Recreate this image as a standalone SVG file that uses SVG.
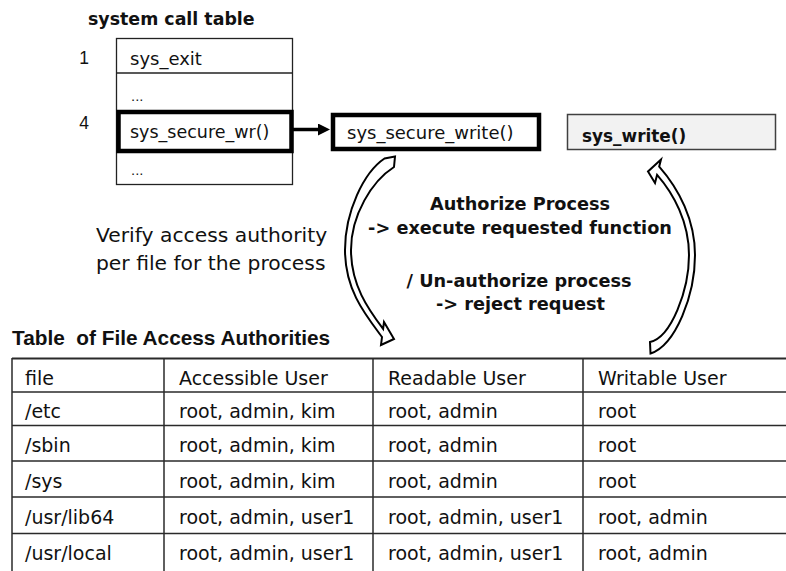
<svg xmlns="http://www.w3.org/2000/svg" width="786" height="571" viewBox="0 0 786 571">
  <style>
    .t { font-family: "DejaVu Sans", "Noto Sans", sans-serif; fill: #111; }
    .b { font-weight: bold; }
    .ar { font-family: "Liberation Sans", Arial, sans-serif; fill: #111; }
    .thin { fill: none; stroke: #222; stroke-width: 1.3; }
    .thick { fill: #fff; stroke: #000; stroke-width: 4.5; }
    .grid { stroke: #2a2a2a; stroke-width: 1.5; }
    .bend { fill: #fff; stroke: #000; stroke-width: 2; stroke-linejoin: miter; }
    .cell { font-size: 19px; }
  </style>
  <defs>
    <marker id="head" markerUnits="userSpaceOnUse" markerWidth="12" markerHeight="12" refX="0" refY="6" orient="auto">
      <path d="M0,0 L12,6 L0,12 Z" fill="#000"/>
    </marker>
  </defs>
  <rect width="786" height="571" fill="#fff"/>

  <!-- system call table -->
  <g id="syscall-table">
    <text class="t b" x="88" y="25" font-size="17.4">system call table</text>
    <rect class="thin" x="116.5" y="38.5" width="176" height="146"/>
    <line class="thin" x1="116.5" y1="73" x2="292.5" y2="73"/>
    <text class="ar" x="84" y="63.5" font-size="17.5" text-anchor="middle">1</text>
    <text class="ar" x="84" y="128.5" font-size="17.5" text-anchor="middle">4</text>
    <text class="t" x="130" y="65" font-size="18">sys_exit</text>
    <text class="t" x="131" y="100.5" font-size="13" fill="#444">...</text>
    <text class="t" x="131" y="174.5" font-size="13" fill="#444">...</text>
  </g>

  <g id="sys-secure-wr">
    <rect class="thick" x="118.5" y="112" width="173" height="39"/>
    <text class="t" x="130" y="137.5" font-size="17.5">sys_secure_wr()</text>
  </g>

  <g id="sys-secure-write">
    <rect class="thick" x="333" y="115" width="206" height="34" stroke-width="4"/>
    <text class="t" x="347" y="139" font-size="18">sys_secure_write()</text>
  </g>

  <g id="sys-write">
    <rect x="567.5" y="114.5" width="208" height="35" fill="#f2f2f2" stroke="#404040" stroke-width="1.5"/>
    <text class="t b" x="582" y="141.5" font-size="16.9">sys_write()</text>
  </g>

  <!-- connectors -->
  <g id="connectors">
    <line x1="293" y1="129.5" x2="318" y2="129.5" stroke="#000" stroke-width="3.5" marker-end="url(#head)"/>
    <!-- curved block arrow down to the authority table -->
    <path class="bend" d="M384.5,158.5 L395,156.5 L394,167 C372,181 351,215 351,250 C351,285 368.1,308.9 383.1,328.9 L384,322 L394,339 L381,345 L382,337 C365.2,314.6 345,290 345,250 C345,212 363.7,172.3 384.5,158.5 Z"/>
    <!-- curved block arrow back up to sys_write() -->
    <path class="bend" d="M659.2,166.6 C679,189.1 695,220 695,255 C695,295 675.8,345 650.5,353.5 L650,342 C671.3,337.2 689,290 689,255 C689,222 673.6,193.6 657.1,174.8 L655,183 L648,171.5 L661,159.5 Z"/>
  </g>

  <g id="verify-label">
    <text class="t" x="96" y="242" font-size="20.3">Verify access authority</text>
    <text class="t" x="96" y="270" font-size="20.3">per file for the process</text>
  </g>

  <g id="decision-label" text-anchor="middle">
    <text class="t b" x="520" y="210" font-size="17.7">Authorize Process</text>
    <text class="t b" x="520" y="233.5" font-size="17.7">-&gt; execute requested function</text>
    <text class="t b" x="519" y="286.5" font-size="17.7">/ Un-authorize process</text>
    <text class="t b" x="520.5" y="310" font-size="17.7">-&gt; reject request</text>
  </g>

  <!-- file access authority table -->
  <g id="authority-table">
    <text class="ar b" x="12" y="344.5" font-size="20.8" font-weight="bold" xml:space="preserve" style="white-space: pre">Table  of File Access Authorities</text>
    <g class="grid">
      <line x1="12" y1="358.5" x2="786" y2="358.5" stroke-width="2"/>
      <line x1="12" y1="392" x2="786" y2="392"/>
      <line x1="12" y1="425.5" x2="786" y2="425.5"/>
      <line x1="12" y1="461" x2="786" y2="461"/>
      <line x1="12" y1="497" x2="786" y2="497"/>
      <line x1="12" y1="533.5" x2="786" y2="533.5"/>
      <line x1="12" y1="358" x2="12" y2="571"/>
      <line x1="164" y1="358" x2="164" y2="571"/>
      <line x1="373" y1="358" x2="373" y2="571"/>
      <line x1="583" y1="358" x2="583" y2="571"/>
    </g>
    <g class="t cell">
      <text x="25" y="385">file</text>
      <text x="179" y="385">Accessible User</text>
      <text x="388" y="385">Readable User</text>
      <text x="598" y="385">Writable User</text>

      <text x="25" y="417.5">/etc</text>
      <text x="179" y="417.5">root, admin, kim</text>
      <text x="388" y="417.5">root, admin</text>
      <text x="598" y="417.5">root</text>

      <text x="25" y="452">/sbin</text>
      <text x="179" y="452">root, admin, kim</text>
      <text x="388" y="452">root, admin</text>
      <text x="598" y="452">root</text>

      <text x="25" y="487.5">/sys</text>
      <text x="179" y="487.5">root, admin, kim</text>
      <text x="388" y="487.5">root, admin</text>
      <text x="598" y="487.5">root</text>

      <text x="25" y="523.5">/usr/lib64</text>
      <text x="179" y="523.5">root, admin, user1</text>
      <text x="388" y="523.5">root, admin, user1</text>
      <text x="598" y="523.5">root, admin</text>

      <text x="25" y="560">/usr/local</text>
      <text x="179" y="560">root, admin, user1</text>
      <text x="388" y="560">root, admin, user1</text>
      <text x="598" y="560">root, admin</text>
    </g>
  </g>
</svg>
